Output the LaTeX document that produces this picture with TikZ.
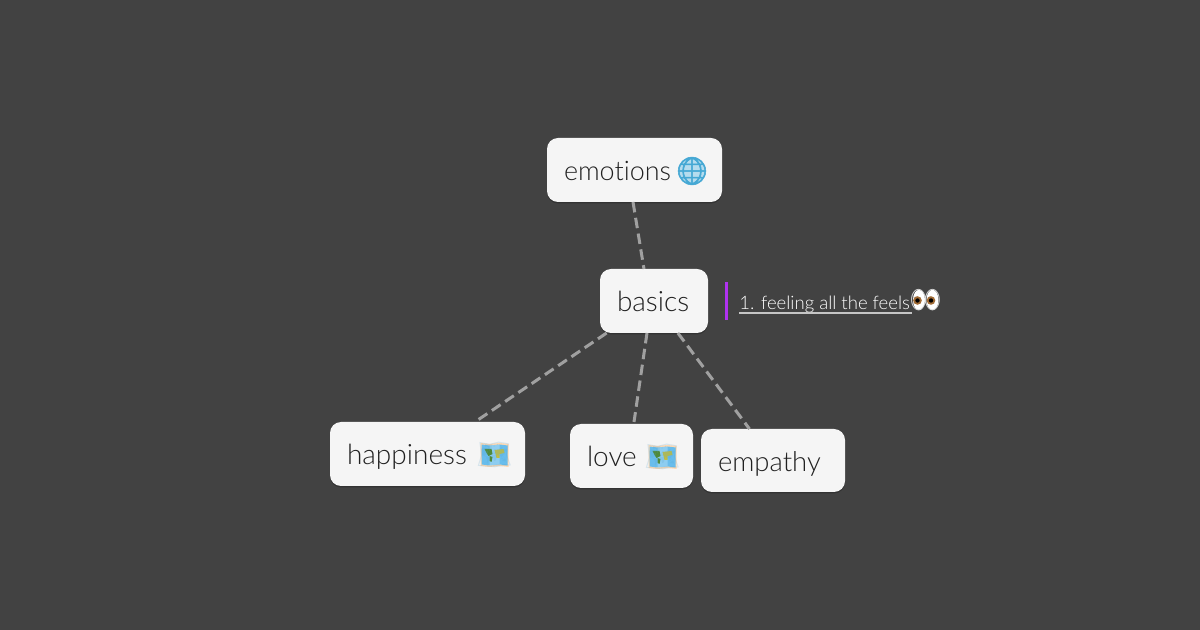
\documentclass[tikz,border=0pt]{standalone}
\usepackage{fontspec}
\usepackage{xcolor}
\usetikzlibrary{
    shadows,
    shapes
}
\setmainfont{Lato Light}[Ligatures={NoCommon}]
\newfontfamily\emojifont{Noto Emoji}
\newfontfamily\emojibold{Noto Emoji}[FakeBold=2]
\definecolor{boardgray}{HTML}{424242}
\definecolor{cardwhite}{HTML}{F5F5F5}
\definecolor{cardtext}{HTML}{212121}
\definecolor{edgegray}{HTML}{A0A0A0}
\definecolor{notepurple}{HTML}{B032F0}
\definecolor{mapblue}{HTML}{68BDEC}
\definecolor{mapgreen}{HTML}{4F8A3C}
\definecolor{mapyellow}{HTML}{C2BE40}
\definecolor{globeblue}{HTML}{45A8D4}
\def\px{0.75pt}
\tikzset{
    card/.style={
        draw=none, fill=cardwhite, rounded corners=11*\px, text=cardtext,
        minimum height=64*\px, inner ysep=0pt, inner xsep=17*\px, outer sep=0pt,
        align=left, text height=18pt, text depth=1.5pt,
        font=\fontsize{21pt}{24pt}\selectfont,
        drop shadow={shadow xshift=0pt, shadow yshift=-1.5*\px, fill=black, opacity=0.22}
    },
    link/.style={draw=edgegray, line width=3*\px, dash pattern=on 10.5*\px off 5.5*\px},
    emoji/.style={inner sep=0pt, outer sep=0pt, font=\emojifont\fontsize{21pt}{24pt}\selectfont}
}
% map emoji: background panels, the glyph goes on top
\newcommand{\mapicon}[2]{
    \begin{scope}[shift={(#1,#2)}]
        \fill[orange!30!white] (-14,-12) -- (-5,-11) -- (5,-12) -- (14,-11) -- (14,12) -- (5,11) -- (-5,12) -- (-14,11) -- cycle;
        \fill[mapblue] (-13,-10.5) -- (-5,-9.5) -- (5,-10.5) -- (13,-9.5) -- (13,10.5) -- (5,9.5) -- (-5,10.5) -- (-13,9.5) -- cycle;
        \fill[white, opacity=0.25] (-5,-9.5) -- (5,-10.5) -- (5,9.5) -- (-5,10.5) -- cycle;
        \fill[mapgreen] (-10,-6) -- (-3,-6) -- (-2,-1) -- (-6,1) -- (-8,-2) -- cycle;
        \fill[mapgreen] (-5,1) -- (-2,2) -- (-3,7) -- (-5,6) -- cycle;
        \fill[mapyellow] (0,-5) -- (9,-6) -- (10,-2) -- (5,-1) -- (5,3) -- (2,3) -- (1,-1) -- cycle;
    \end{scope}
}

\begin{document}
\begin{tikzpicture}[x=\px, y=-\px]
    \useasboundingbox[fill=boardgray] (0, 0) rectangle (1200, 630);

    \node[card, text width=141*\px, font=\fontsize{20.2pt}{24pt}\selectfont] (emotions) at (634.5, 170) {emotions};
    \node[card, text width=74*\px] (basics) at (654, 301) {basics};
    \node[card, text width=161*\px] (happiness) at (427.5, 454) {happiness};
    \node[card, text width=89*\px] (love) at (631.5, 456) {love};
    \node[card, text width=110*\px, minimum height=63*\px, text height=17.5pt, font=\fontsize{20.6pt}{24pt}\selectfont] (empathy) at (773, 460.5) {empathy};

    \draw[link] ([xshift=-1.5*\px]emotions.south) -- ([xshift=-10*\px]basics.north);
    \draw[link] (basics) -- (happiness);
    \draw[link] ([xshift=-7*\px]basics.south) -- ([xshift=2.5*\px, yshift=2*\px]love.north);
    \draw[link] (basics) -- (empathy);

    \fill[globeblue!40!white] (692, 171) circle (13);
    \node[emoji, text=globeblue, font=\emojibold\fontsize{20.5pt}{24pt}\selectfont] (globe) at (692, 171) {🌐};

    \mapicon{494.5}{455}
    \mapicon{662.5}{457}
    \node[emoji, text=mapblue!85!black, opacity=0.2] (mapa) at (494.5, 455) {🗺};
    \node[emoji, text=mapblue!85!black, opacity=0.2] (mapb) at (662.5, 457) {🗺};

    \fill[notepurple] (724.7, 282) rectangle (728.3, 320);
    \node[inner sep=0pt, anchor=base west, text=white, font=\fontsize{13.9pt}{17pt}\selectfont] (note) at (739, 310) {1. feeling all the feels\ };
    \draw[white!70!boardgray, line width=2*\px] ([yshift=-3*\px]note.base west) -- ([yshift=-3*\px, xshift=2*\px]note.base east);

    \fill[white] (919, 300) ellipse (6 and 10.2);
    \fill[white] (932.5, 300) ellipse (6 and 10.2);
    \node[emoji, text=black!15, font=\emojifont\fontsize{18.5pt}{24pt}\selectfont] (eyes) at (925.5, 300.5) {👀};
    \foreach \eyex in {917.5, 931} {
        \fill[brown!85!black] (\eyex, 300.5) circle (4.3);
        \fill[black] (\eyex, 300.5) circle (2.2);
    }
\end{tikzpicture}
\end{document}
